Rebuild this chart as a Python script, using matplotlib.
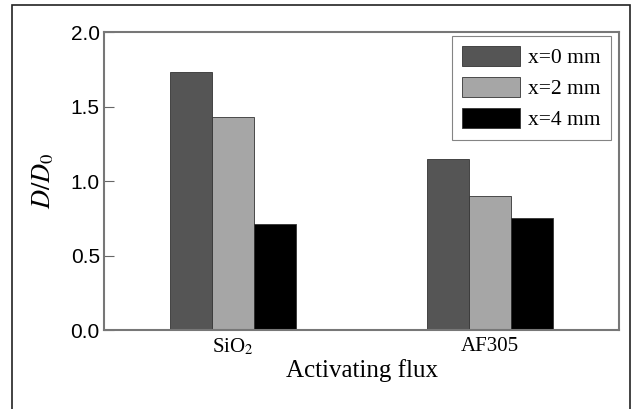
import numpy as np
import matplotlib.pyplot as plt
from matplotlib.patches import Rectangle

plt.rcParams['mathtext.fontset'] = 'stix'

fluxes = ['SiO$_2$', 'AF305']
labels = ['x=0 mm', 'x=2 mm', 'x=4 mm']
x0 = [1.73, 1.15]
x2 = [1.43, 0.90]
x4 = [0.71, 0.75]
colors = ['#555555', '#a6a6a6', '#000000']

fig = plt.figure(figsize=(6.32, 4.09), dpi=100)
ax = fig.add_axes([104 / 632, 1 - 330 / 409, 515 / 632, 298 / 409])

# outer frame of the picture
fig.patches.append(Rectangle((12 / 632, -0.05), 618 / 632, 1 - 5 / 409 + 0.05,
                             transform=fig.transFigure, fill=False,
                             edgecolor='#222222', linewidth=1.2))

pos = np.arange(len(fluxes))
w = 0.163
for i, (vals, lab, c) in enumerate(zip([x0, x2, x4], labels, colors)):
    ax.bar(pos + (i - 1) * w, vals, w, color=c, edgecolor='#333333',
           linewidth=0.6, label=lab)

ax.set_xlim(-0.5, 1.5)
ax.set_ylim(0, 2.0)
ax.set_yticks([0.0, 0.5, 1.0, 1.5, 2.0])
ax.set_yticklabels(['0.0', '0.5', '1.0', '1.5', '2.0'], family='Liberation Sans', fontsize=15)
ax.set_xticks(pos)
ax.set_xticklabels(fluxes, family='Liberation Serif', fontsize=15)
ax.tick_params(axis='y', direction='in', length=7, color='#666666', pad=3)
ax.tick_params(axis='x', length=0, pad=5)
for s in ax.spines.values():
    s.set_color('#777777')
    s.set_linewidth(1.5)

ax.set_xlabel('Activating flux', family='Liberation Serif', fontsize=18, labelpad=1)
ax.set_ylabel('$D/D_0$', fontsize=19, labelpad=10)

leg = ax.legend(loc='upper right', prop={'family': 'Liberation Serif', 'size': 15.5},
                fancybox=False, edgecolor='#666666', handlelength=2.7,
                handleheight=1.05, borderpad=0.45, labelspacing=0.4,
                handletextpad=0.4, borderaxespad=0, bbox_to_anchor=(0.984, 0.985))
leg.get_frame().set_linewidth(0.8)

plt.savefig('out.png', dpi=100)
